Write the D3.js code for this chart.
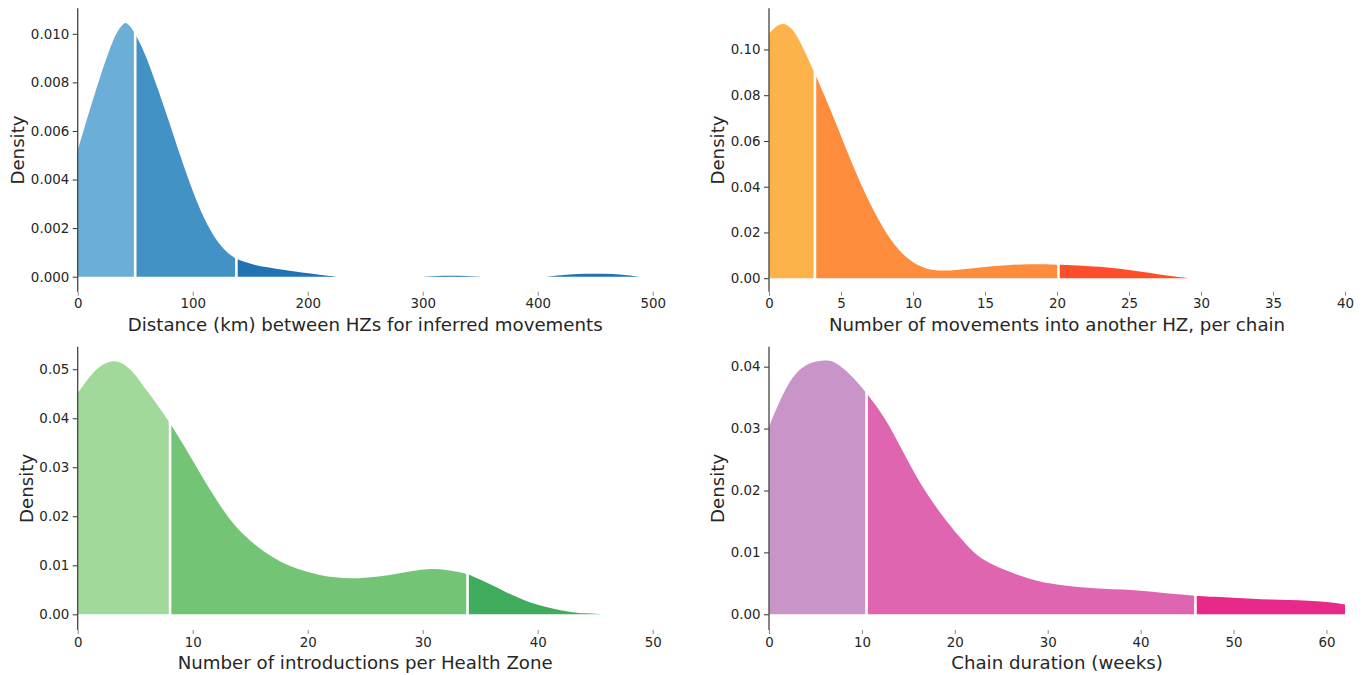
<!DOCTYPE html>
<html><head><meta charset="utf-8">
<script src="https://cdn.jsdelivr.net/npm/d3@7"></script>
<style>
html,body{margin:0;padding:0;background:#fff;}
svg{display:block;font-family:"DejaVu Sans",sans-serif;}
</style></head>
<body><svg id="c" width="1366" height="675"></svg>
<script>
// ---- Panel 1: distance between HZs (km)
const distX = [0, 5, 10, 15, 20, 25, 30, 35, 40, 42, 45, 50, 55, 60, 65, 70, 75, 80, 85, 90, 95, 100, 105, 110, 115, 120, 125, 130, 138, 150, 165, 180, 195, 210, 226, 300, 312, 325, 338, 351, 407, 420, 435, 450, 465, 478, 489];
const distY = [0.0052, 0.0060, 0.0068, 0.00755, 0.0083, 0.0090, 0.00965, 0.01015, 0.01043, 0.01046, 0.01036, 0.0100, 0.00955, 0.0090, 0.00835, 0.0077, 0.0070, 0.0063, 0.00558, 0.00487, 0.00418, 0.00353, 0.00293, 0.0024, 0.00194, 0.00155, 0.00124, 0.00099, 0.00073, 0.00052, 0.00038, 0.00027, 0.00017, 0.00008, 0, 0, 0.00003, 0.00005, 0.00003, 0, 0, 0.00007, 0.00011, 0.00013, 0.00011, 0.00007, 0];
const distCuts = [50, 138];
const distXTicks = [0, 100, 200, 300, 400, 500];
const distYTicks = [0, 0.002, 0.004, 0.006, 0.008, 0.010];

// ---- Panel 2: movements into another HZ per chain
const movX = [0, 0.5, 0.95, 1.5, 2, 2.5, 3.19, 4.3, 5.23, 6.16, 7.25, 8.6, 9.8, 10.95, 12, 13, 14, 15, 16, 17, 18, 19, 20.1, 21, 22, 23, 24, 25, 26, 27, 28, 29.2];
const movY = [0.107, 0.1103, 0.1117, 0.1100, 0.1055, 0.0990, 0.0894, 0.0733, 0.0586, 0.0440, 0.0293, 0.0147, 0.0073, 0.0037, 0.0032, 0.0035, 0.0042, 0.0049, 0.0055, 0.0059, 0.0061, 0.0061, 0.0059, 0.0057, 0.0054, 0.0050, 0.0044, 0.0036, 0.0027, 0.0017, 0.0008, 0];
const movCuts = [3.19, 20.1];
const movXTicks = [0, 5, 10, 15, 20, 25, 30, 35, 40];
const movYTicks = [0, 0.02, 0.04, 0.06, 0.08, 0.10];

// ---- Panel 3: introductions per Health Zone
const introX = [0, 1, 2, 3.1, 4, 5, 5.57, 6, 7, 8.03, 9.3, 10.9, 13, 14.5, 16, 18.2, 21.1, 23.7, 26, 28, 30, 31, 32, 33, 33.9, 35, 36, 37, 38, 39, 40, 41, 42, 43, 44, 45.8];
const introY = [0.0451, 0.0485, 0.0509, 0.0519, 0.0512, 0.0490, 0.0470, 0.0457, 0.0425, 0.0390, 0.0342, 0.0277, 0.0198, 0.0160, 0.0130, 0.0098, 0.0078, 0.0072, 0.0076, 0.0084, 0.0092, 0.0093, 0.0091, 0.0087, 0.0082, 0.0071, 0.0060, 0.0048, 0.0037, 0.0027, 0.0019, 0.0013, 0.0008, 0.0004, 0.0002, 0];
const introCuts = [8.03, 33.9];
const introXTicks = [0, 10, 20, 30, 40, 50];
const introYTicks = [0, 0.01, 0.02, 0.03, 0.04, 0.05];

// ---- Panel 4: chain duration (weeks)
const durX = [0, 1, 2.1, 3, 4, 5, 6.4, 7, 8, 9.4, 10.5, 12.5, 14.3, 16.2, 18.6, 21.6, 23, 25.2, 28, 30, 32, 34, 36, 38, 40, 42, 44, 45.9, 48, 50, 52, 54, 56, 58, 60, 62];
const durY = [0.0303, 0.0340, 0.0373, 0.0392, 0.0403, 0.0409, 0.0411, 0.0408, 0.0398, 0.0377, 0.0357, 0.0318, 0.0266, 0.0212, 0.0159, 0.0105, 0.0088, 0.0072, 0.0057, 0.0050, 0.0046, 0.0043, 0.0041, 0.0040, 0.0038, 0.0035, 0.0032, 0.0030, 0.0028, 0.0027, 0.0025, 0.0024, 0.0023, 0.0022, 0.0020, 0.0016];
const durCuts = [10.5, 45.9];
const durXTicks = [0, 10, 20, 30, 40, 50, 60];
const durYTicks = [0, 0.01, 0.02, 0.03, 0.04];

const blues = ["#6baed6", "#4292c6", "#2171b5"];
const oranges = ["#feb24c", "#fd8d3c", "#fc4e2a"];
const greens = ["#a1d99b", "#74c476", "#41ab5d"];
const pinks = ["#c994c7", "#df65b0", "#e7298a"];

const panels = [
  {xs: distX, ys: distY, cuts: distCuts, colors: blues, xTicks: distXTicks, yTicks: distYTicks, fmt: ".3f",
   xDom: [0, 500], yDom: [-0.000617, 0.01105], xr: [77.7, 652.7], yr: [291.7, 8.3],
   label: "Distance (km) between HZs for inferred movements"},
  {xs: movX, ys: movY, cuts: movCuts, colors: oranges, xTicks: movXTicks, yTicks: movYTicks, fmt: ".2f",
   xDom: [0, 40], yDom: [-0.0059, 0.118], xr: [769, 1345], yr: [291.7, 8.3],
   label: "Number of movements into another HZ, per chain"},
  {xs: introX, ys: introY, cuts: introCuts, colors: greens, xTicks: introXTicks, yTicks: introYTicks, fmt: ".2f",
   xDom: [0, 50], yDom: [-0.0032, 0.0546], xr: [77.7, 652.7], yr: [630, 346.7],
   label: "Number of introductions per Health Zone"},
  {xs: durX, ys: durY, cuts: durCuts, colors: pinks, xTicks: durXTicks, yTicks: durYTicks, fmt: ".2f",
   xDom: [0, 62], yDom: [-0.00254, 0.04323], xr: [769, 1345], yr: [630, 346.7],
   label: "Chain duration (weeks)"}
];

const svg = d3.select("#c");
const textColor = "#262626";

// split a run of points wherever two consecutive densities are both zero
function splitRuns(seg) {
  const runs = [];
  let cur = [seg[0]];
  for (let i = 1; i < seg.length; i++) {
    if (seg[i].y === 0 && seg[i - 1].y === 0) {
      if (cur.length > 1) runs.push(cur);
      cur = [seg[i]];
    } else cur.push(seg[i]);
  }
  if (cur.length > 1) runs.push(cur);
  return runs;
}

panels.forEach(p => {
  const x = d3.scaleLinear().domain(p.xDom).range(p.xr);
  const y = d3.scaleLinear().domain(p.yDom).range(p.yr);
  const g = svg.append("g");
  const pts = p.xs.map((v, i) => ({x: v, y: p.ys[i]}));
  const bounds = [p.xs[0], ...p.cuts, p.xs[p.xs.length - 1]];
  const area = d3.area().x(d => x(d.x)).y0(y(0)).y1(d => y(d.y)).curve(d3.curveBasis);
  for (let s = 0; s < bounds.length - 1; s++) {
    const seg = pts.filter(d => d.x >= bounds[s] && d.x <= bounds[s + 1]);
    splitRuns(seg).forEach(run => {
      g.append("path").attr("d", area(run)).attr("fill", p.colors[s]).attr("stroke", "none");
    });
  }
  // white divider lines at cut points
  p.cuts.forEach(c => {
    const v = p.ys[p.xs.indexOf(c)];
    g.append("line").attr("x1", x(c)).attr("x2", x(c)).attr("y1", y(0) + 0.5).attr("y2", y(v) - 3)
      .attr("stroke", "#fff").attr("stroke-width", 2.6);
  });

  // y axis
  const ya = d3.axisLeft(y).tickValues(p.yTicks).tickFormat(d3.format(p.fmt)).tickSize(5).tickPadding(3.5);
  const yg = g.append("g").attr("transform", `translate(${p.xr[0]},0)`).call(ya);
  yg.select(".domain").remove();
  yg.selectAll(".tick line").attr("stroke", "#333").attr("stroke-width", 1);
  yg.selectAll(".tick text").attr("fill", textColor).style("font-size", "13.4px").style("font-family", "DejaVu Sans");
  g.append("line").attr("x1", p.xr[0]).attr("x2", p.xr[0]).attr("y1", p.yr[1]).attr("y2", p.yr[0])
    .attr("stroke", "#444").attr("stroke-width", 1.3);

  // x axis (no spine)
  const xa = d3.axisBottom(x).tickValues(p.xTicks).tickFormat(d3.format("d")).tickSize(4).tickPadding(3);
  const xg = g.append("g").attr("transform", `translate(0,${p.yr[0]})`).call(xa);
  xg.select(".domain").remove();
  xg.selectAll(".tick line").attr("stroke", "#888").attr("stroke-width", 1);
  xg.selectAll(".tick text").attr("fill", textColor).style("font-size", "13.4px").style("font-family", "DejaVu Sans");

  // labels
  g.append("text").attr("x", (p.xr[0] + p.xr[1]) / 2).attr("y", p.yr[0] + 39)
    .attr("text-anchor", "middle").attr("fill", textColor).style("font-size", "18.2px").text(p.label);
  const bb = yg.node().getBBox();
  const lx = p.xr[0] + bb.x - 13;
  const ly = (p.yr[0] + p.yr[1]) / 2;
  g.append("text").attr("transform", `translate(${lx},${ly}) rotate(-90)`).attr("text-anchor", "middle")
    .attr("dy", "0.35em").attr("fill", textColor).style("font-size", "18.2px").text("Density");
});
</script></body></html>
